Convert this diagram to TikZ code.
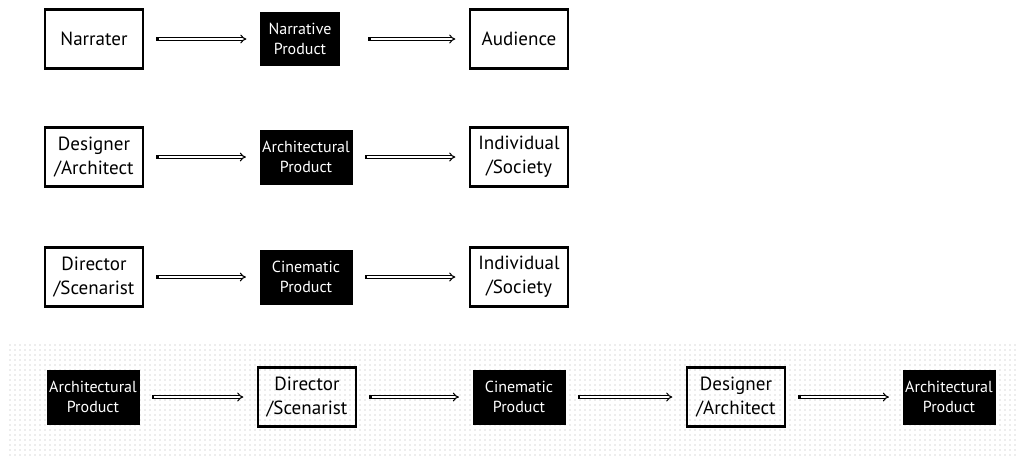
\documentclass[tikz,border=0pt]{standalone}
\usepackage{fontspec}
\setmainfont{PT Sans}
\usepackage{tikz}
\usetikzlibrary{positioning}
\usetikzlibrary{arrows.meta}
\usetikzlibrary{patterns.meta}

\begin{document}
\begin{tikzpicture}[x=0.75pt, y=-0.75pt,
        w/.style={draw, line width=2pt, minimum width=73.5pt, minimum height=44.25pt, inner sep=1pt, align=center, font=\fontsize{14.3}{18}\selectfont},
        b/.style={fill=black, text=white, minimum width=69.75pt, minimum height=41.25pt, inner sep=1pt, align=center, font=\fontsize{12}{15.5}\selectfont},
        arr/.style={double, double distance=1.4pt, line width=0.8pt, {Square[length=2pt, width=3.2pt]}-{Implies[scale=1.2]}, shorten <=9pt, shorten >=10pt}]
        \useasboundingbox (0, 0) rectangle (1017, 455);
        \fill[pattern={Dots[distance=3.75pt, radius=0.4pt]}, pattern color=black!30] (9, 344) rectangle (1017, 455);

        \node[w] (narrater) at (94, 39) {Narrater};
        \node[b, minimum width=60pt, minimum height=40.5pt] (narrprod) at (300, 39) {Narrative\\Product};
        \node[w] (audience) at (519, 39) {Audience};

        \node[w] (designer) at (94, 157) {Designer\\/Architect};
        \node[b] (archprod) at (306, 157) {Architectural\\Product};
        \node[w] (society) at (519, 157) {Individual\\/Society};

        \node[w] (director) at (94, 277) {Director\\/Scenarist};
        \node[b] (cineprod) at (306, 277) {Cinematic\\Product};
        \node[w] (society2) at (519, 277) {Individual\\/Society};

        \node[b] (archprodA) at (93, 397) {Architectural\\Product};
        \node[w] (director2) at (307, 397) {Director\\/Scenarist};
        \node[b] (cineprod2) at (519, 397) {Cinematic\\Product};
        \node[w] (designer2) at (736, 397) {Designer\\/Architect};
        \node[b] (archprodB) at (949, 397) {Architectural\\Product};

        \draw[arr] (narrater) -- (narrprod);
        \draw[arr, shorten <=21pt] (narrprod) -- (audience);
        \draw[arr] (designer) -- (archprod);
        \draw[arr] (archprod) -- (society);
        \draw[arr] (director) -- (cineprod);
        \draw[arr] (cineprod) -- (society2);
        \draw[arr] (archprodA) -- (director2);
        \draw[arr] (director2) -- (cineprod2);
        \draw[arr] (cineprod2) -- (designer2);
        \draw[arr] (designer2) -- (archprodB);
    \end{tikzpicture}
\end{document}
